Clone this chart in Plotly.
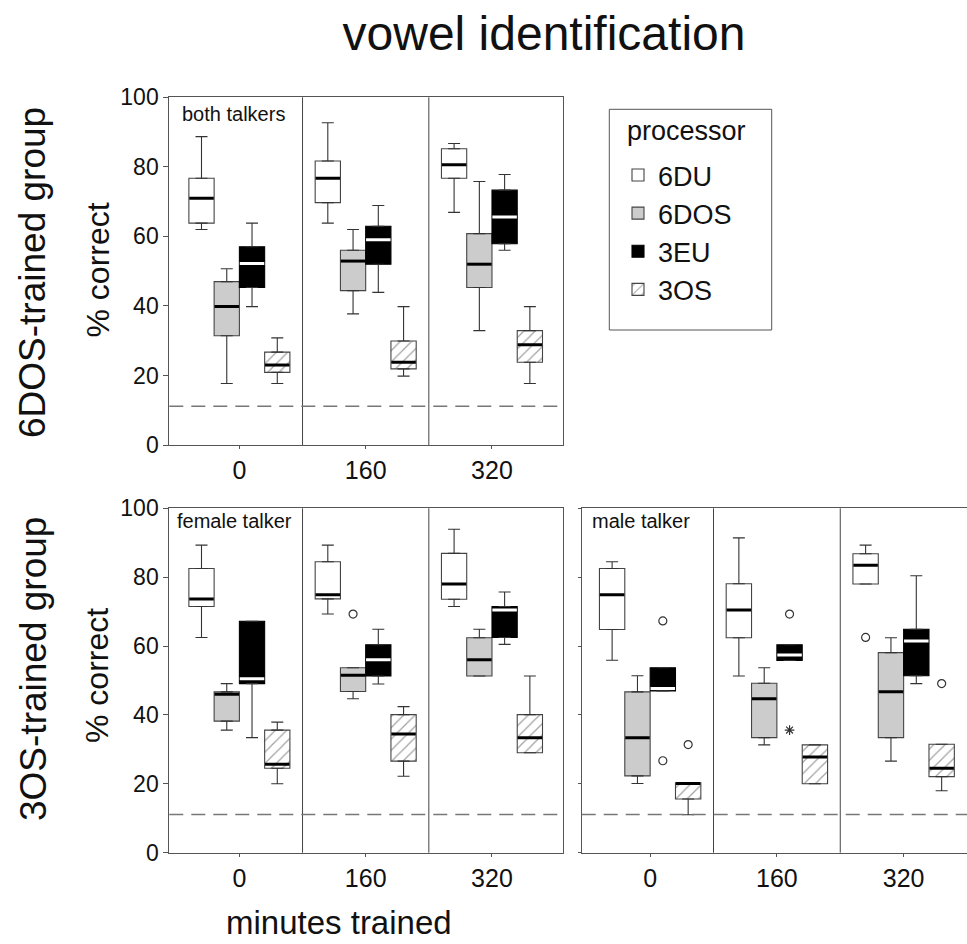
import plotly.graph_objects as go

# ---------------- data ----------------
PROCESSORS = ["6DU", "6DOS", "3EU", "3OS"]
MINUTES = ["0", "160", "320"]
CHANCE = 100 / 9  # chance level for 9 vowels

# five-number summaries per minute: (lower whisker, q1, median, q3, upper whisker)
BOTH_6DU = [(62, 63.8, 71, 76.7, 88.7), (63.8, 69.7, 76.7, 81.7, 92.7), (66.9, 76.7, 80.6, 85.2, 86.7)]
BOTH_6DOS = [(17.7, 31.4, 39.8, 47, 50.7), (37.7, 44.4, 52.9, 56, 62), (32.9, 45.3, 52, 60.8, 75.8)]
BOTH_3EU = [(39.8, 45.3, 52.2, 57, 63.8), (43.9, 52, 59, 62.9, 68.9), (56, 57.9, 65.6, 73.3, 77.8)]
BOTH_3OS = [(17.7, 20.9, 23, 26.7, 30.8), (19.8, 21.9, 23.8, 29.9, 39.8), (17.7, 23.8, 28.8, 32.9, 39.8)]

FEMALE_6DU = [(62.5, 71.5, 73.7, 82.5, 89.3), (69.3, 73.7, 74.9, 84.5, 89.3), (71.5, 73.6, 78, 86.9, 93.9)]
FEMALE_6DOS = [(35.6, 38.2, 46, 46.7, 49.1), (44.7, 46.8, 51.5, 53.7, 53.7), (51.3, 51.3, 56, 62.4, 64.9)]
FEMALE_3EU = [(33.4, 49.1, 50.5, 67.2, 67.2), (49, 51.3, 56, 60.4, 64.9), (60.5, 62.5, 70.5, 71.5, 75.7)]
FEMALE_3OS = [(20, 24.5, 25.7, 35.6, 37.9), (22.2, 26.6, 34.5, 40.1, 42.4), (29, 29, 33.4, 40.1, 51.3)]

MALE_6DU = [(55.9, 64.8, 74.9, 82.5, 84.5), (51.3, 62.4, 70.5, 78.1, 91.4), (78, 78, 83.5, 86.8, 89.3)]
MALE_6DOS = [(20.1, 22.3, 33.4, 46.7, 51.4), (31.3, 33.4, 44.7, 49.2, 53.7), (26.6, 33.4, 46.7, 58.1, 62.4)]
MALE_3EU = [(47, 47, 47.7, 53.7, 53.7), (55.8, 55.8, 57.4, 60.4, 60.4), (49.1, 51.4, 61.5, 64.9, 80.4)]
MALE_3OS = [(11, 15.6, 20.1, 20.3, 20.3), (20, 20, 27.8, 31.3, 31.3), (18, 22.1, 24.5, 31.5, 31.5)]

# outliers: (minute, processor, value)
FEMALE_OUTLIERS = [("160", "6DOS", 69.3)]
MALE_OUTLIERS = [("0", "3EU", 67.3), ("0", "3EU", 26.7), ("0", "3OS", 31.4),
                 ("160", "3EU", 69.3), ("320", "6DU", 62.5), ("320", "3OS", 49.1)]
MALE_EXTREMES = [("160", "3EU", 35.6)]

# ---------------- styling ----------------
FONT = "Liberation Sans, Arial, sans-serif"
FILL = {"6DU": "white", "6DOS": "#cccccc", "3EU": "black", "3OS": "white"}
EDGE = {"6DU": "#444444", "6DOS": "#444444", "3EU": "black", "3OS": "#444444"}
MEDIAN_COLOR = {"6DU": "black", "6DOS": "black", "3EU": "white", "3OS": "black"}
FRAME = "#555555"

PANELS = [
    dict(stats=[BOTH_6DU, BOTH_6DOS, BOTH_3EU, BOTH_3OS], outliers=[], extremes=[],
         xa="x", ya="y"),
    dict(stats=[FEMALE_6DU, FEMALE_6DOS, FEMALE_3EU, FEMALE_3OS],
         outliers=FEMALE_OUTLIERS, extremes=[], xa="x2", ya="y2"),
    dict(stats=[MALE_6DU, MALE_6DOS, MALE_3EU, MALE_3OS],
         outliers=MALE_OUTLIERS, extremes=MALE_EXTREMES, xa="x3", ya="y3"),
]

fig = go.Figure()

for pi, panel in enumerate(PANELS):
    xa, ya = panel["xa"], panel["ya"]
    for proc, stats in zip(PROCESSORS, panel["stats"]):
        lo = [s[0] for s in stats]
        q1 = [s[1] for s in stats]
        med = [s[2] for s in stats]
        q3 = [s[3] for s in stats]
        hi = [s[4] for s in stats]
        marker = dict(color=FILL[proc], line=dict(color=EDGE[proc], width=1.1))
        if proc == "3OS":
            marker["pattern"] = dict(shape="/", fgcolor="#444444", bgcolor="white",
                                     size=8, solidity=0.15)
        # box body (q1..q3)
        fig.add_trace(go.Bar(
            x=MINUTES, y=[b - a for a, b in zip(q1, q3)], base=q1,
            name=proc, legendgroup=proc, offsetgroup=proc,
            showlegend=(pi == 0), marker=marker,
            xaxis=xa, yaxis=ya, hoverinfo="skip"))
        # upper whisker
        fig.add_trace(go.Scatter(
            x=MINUTES, y=q3, mode="markers", marker=dict(size=1, opacity=0),
            error_y=dict(type="data", symmetric=False,
                         array=[h - b for h, b in zip(hi, q3)], arrayminus=[0] * 3,
                         width=6, thickness=1.1, color="#333333"),
            offsetgroup=proc, legendgroup=proc, showlegend=False,
            xaxis=xa, yaxis=ya, hoverinfo="skip"))
        # lower whisker
        fig.add_trace(go.Scatter(
            x=MINUTES, y=q1, mode="markers", marker=dict(size=1, opacity=0),
            error_y=dict(type="data", symmetric=False,
                         array=[0] * 3, arrayminus=[a - l for a, l in zip(q1, lo)],
                         width=6, thickness=1.1, color="#333333"),
            offsetgroup=proc, legendgroup=proc, showlegend=False,
            xaxis=xa, yaxis=ya, hoverinfo="skip"))
        # median
        fig.add_trace(go.Scatter(
            x=MINUTES, y=med, mode="markers",
            marker=dict(symbol="line-ew", size=17.5,
                        line=dict(width=3, color=MEDIAN_COLOR[proc])),
            offsetgroup=proc, legendgroup=proc, showlegend=False,
            xaxis=xa, yaxis=ya, hoverinfo="skip"))
        # outliers
        outs = [o for o in panel["outliers"] if o[1] == proc]
        if outs:
            fig.add_trace(go.Scatter(
                x=[o[0] for o in outs], y=[o[2] for o in outs], mode="markers",
                marker=dict(symbol="circle-open", size=8, color="#333333",
                            line=dict(width=1.2)),
                offsetgroup=proc, legendgroup=proc, showlegend=False,
                xaxis=xa, yaxis=ya, hoverinfo="skip"))
        ext = [o for o in panel["extremes"] if o[1] == proc]
        if ext:
            fig.add_trace(go.Scatter(
                x=[o[0] for o in ext], y=[o[2] for o in ext], mode="markers",
                marker=dict(symbol="asterisk-open", size=8, color="#333333",
                            line=dict(width=1.2, color="#333333")),
                offsetgroup=proc, legendgroup=proc, showlegend=False,
                xaxis=xa, yaxis=ya, hoverinfo="skip"))

# ---------------- axes ----------------
W, H = 967, 944
def px_x(p):
    return p / W
def px_y(p):
    return 1 - p / H

xcommon = dict(type="category", categoryorder="array", categoryarray=MINUTES,
               showline=True, linecolor=FRAME, linewidth=1, mirror=True,
               ticks="outside", ticklen=3, tickcolor=FRAME,
               tickfont=dict(size=25, color="#111111"), showgrid=False, zeroline=False,
               fixedrange=True, automargin=False)
ycommon = dict(range=[0, 100], dtick=20, showline=True, linecolor=FRAME, linewidth=1,
               ticks="outside", ticklen=5, tickcolor=FRAME,
               tickfont=dict(size=23, color="#111111"), showgrid=False, zeroline=False,
               fixedrange=True, automargin=False)

fig.update_layout(
    xaxis=dict(xcommon, domain=[px_x(169.3), px_x(562.7)], range=[-0.555, 2.56], anchor="y"),
    yaxis=dict(ycommon, domain=[px_y(445), px_y(97.3)], anchor="x", mirror=True),
    xaxis2=dict(xcommon, domain=[px_x(169.3), px_x(562.7)], range=[-0.555, 2.56], anchor="y2"),
    yaxis2=dict(ycommon, domain=[px_y(852.7), px_y(508.3)], anchor="x2", mirror=True),
    xaxis3=dict(xcommon, domain=[px_x(581.7), 1.0], range=[-0.54, 2.50], anchor="y3"),
    yaxis3=dict(ycommon, domain=[px_y(852.7), px_y(508.3)], anchor="x3", mirror=False,
                showticklabels=False, ticklen=3),
)

shapes = []
for xa, ya in [("x", "y"), ("x2", "y2"), ("x3", "y3")]:
    for d in (0.5, 1.5):
        shapes.append(dict(type="line", xref=xa, yref=ya + " domain", x0=d, x1=d, y0=0, y1=1,
                           line=dict(color="#444444", width=1)))
    shapes.append(dict(type="line", xref=xa + " domain", yref=ya, x0=0, x1=1,
                       y0=CHANCE, y1=CHANCE,
                       line=dict(color="#777777", width=1.5, dash="14px,8px")))
# legend frame
shapes.append(dict(type="rect", xref="paper", yref="paper",
                   x0=px_x(609.3), x1=px_x(771.7), y0=px_y(330), y1=px_y(109.3),
                   line=dict(color="#555555", width=1), layer="below"))

annotations = [
    dict(text="6DOS-trained group", x=px_x(33), y=px_y(273), textangle=-90, font=dict(size=37)),
    dict(text="3OS-trained group", x=px_x(33), y=px_y(669), textangle=-90, font=dict(size=37)),
    dict(text="% correct", x=px_x(97), y=px_y(270.5), textangle=-90, font=dict(size=32)),
    dict(text="% correct", x=px_x(97), y=px_y(676), textangle=-90, font=dict(size=32)),
    dict(text="minutes trained", x=px_x(339), y=px_y(922), font=dict(size=33)),
    dict(text="both talkers", x=px_x(180), y=px_y(114), xanchor="left", font=dict(size=20)),
    dict(text="female talker", x=px_x(175), y=px_y(521), xanchor="left", font=dict(size=20)),
    dict(text="male talker", x=px_x(590), y=px_y(521), xanchor="left", font=dict(size=20)),
    dict(text="processor", x=px_x(625), y=px_y(131), xanchor="left", font=dict(size=27)),
]
for a in annotations:
    a.setdefault("xanchor", "center")
    a.update(xref="paper", yref="paper", yanchor="middle", showarrow=False)

fig.update_layout(
    width=W, height=H, autosize=False,
    margin=dict(l=0, r=0, t=0, b=0),
    paper_bgcolor="white", plot_bgcolor="white",
    font=dict(family=FONT, color="#111111"),
    title=dict(text="vowel identification", x=px_x(544), xanchor="center",
               y=px_y(33), yanchor="middle", font=dict(size=48)),
    barmode="group", bargap=0.2, bargroupgap=0,
    scattermode="group", scattergap=0.2,
    shapes=shapes, annotations=annotations,
    legend=dict(x=px_x(618), y=px_y(151), xanchor="left", yanchor="top",
                borderwidth=0, bgcolor="rgba(0,0,0,0)",
                font=dict(size=27), tracegroupgap=4, traceorder="normal"),
)

fig.write_html("out.html", config={"displayModeBar": False},
               post_script="document.body.style.margin='0px';")
